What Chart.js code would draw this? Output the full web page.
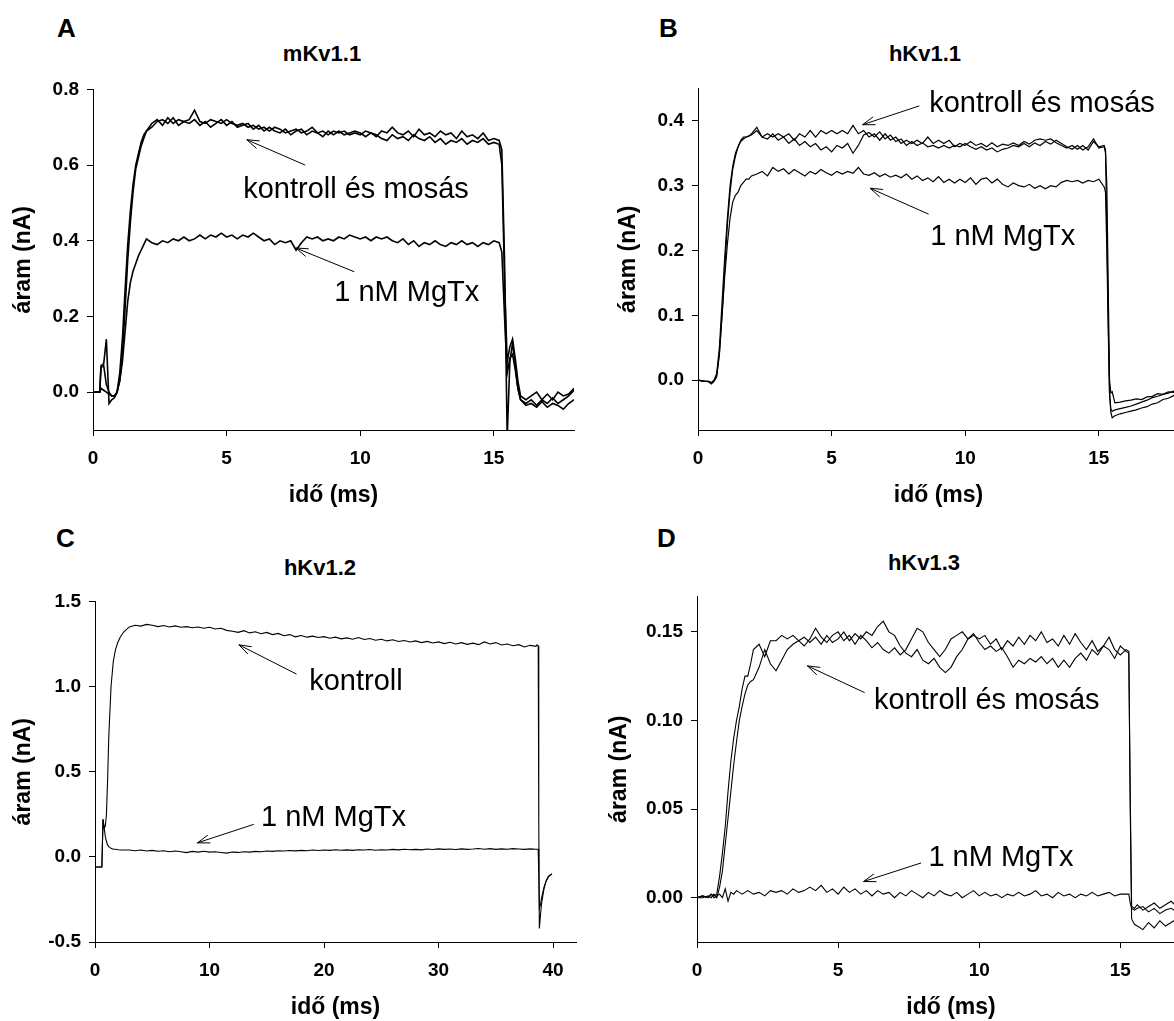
<!DOCTYPE html>
<html lang="hu">
<head>
<meta charset="utf-8">
<title>MgTx – Kv1.x áramok</title>
<script src="https://cdn.jsdelivr.net/npm/chart.js@4.4.1/dist/chart.umd.min.js"></script>
<style>
  html, body { margin: 0; padding: 0; background: #fff; width: 1174px; height: 1021px; overflow: hidden; }
  body { position: relative; font-family: "Liberation Sans", Arial, sans-serif; color: #000; }
  .panel { position: absolute; }
  .betu { position: absolute; font-weight: bold; font-size: 26px; line-height: 1; }
  .cim { position: absolute; width: 200px; text-align: center; font-weight: bold; font-size: 22px; line-height: 1; }
</style>
</head>
<body>
<div class="betu" style="left:57px;top:15px">A</div>
<div class="betu" style="left:659px;top:15px">B</div>
<div class="betu" style="left:56px;top:525px">C</div>
<div class="betu" style="left:657px;top:525px">D</div>
<div class="cim" style="left:222px;top:43px">mKv1.1</div>
<div class="cim" style="left:825px;top:43px">hKv1.1</div>
<div class="cim" style="left:220px;top:557px">hKv1.2</div>
<div class="cim" style="left:824px;top:552px">hKv1.3</div>

<div class="panel" style="left:10px;top:70px"><canvas id="grafA" width="576" height="439"></canvas></div>
<div class="panel" style="left:615px;top:69px"><canvas id="grafB" width="575" height="440"></canvas></div>
<div class="panel" style="left:10px;top:582px"><canvas id="grafC" width="578" height="439"></canvas></div>
<div class="panel" style="left:606px;top:577px"><canvas id="grafD" width="610" height="444"></canvas></div>

<script>
// Közös időpontok (ms) a 18 ms-os rögzítésekhez
var emelkedIdo = [1.0, 1.1, 1.2, 1.3, 1.4, 1.5, 1.6, 1.7, 1.8, 1.9, 2.0];
var platoIdo = [2.2, 2.4, 2.6, 2.8, 3.0, 3.2, 3.4, 3.6, 3.8, 4.0,
  4.2, 4.4, 4.6, 4.8, 5.0, 5.2, 5.4, 5.6, 5.8, 6.0,
  6.2, 6.4, 6.6, 6.8, 7.0, 7.2, 7.4, 7.6, 7.8, 8.0,
  8.2, 8.4, 8.6, 8.8, 9.0, 9.2, 9.4, 9.6, 9.8, 10.0,
  10.2, 10.4, 10.6, 10.8, 11.0, 11.2, 11.4, 11.6, 11.8, 12.0,
  12.2, 12.4, 12.6, 12.8, 13.0, 13.2, 13.4, 13.6, 13.8, 14.0,
  14.2, 14.4, 14.6, 14.8, 15.0, 15.2];
var vegIdo = [16.2, 16.4, 16.6, 16.8, 17.0, 17.2, 17.4, 17.6, 17.8, 18.0];

// ---- A: mKv1.1 ----
var idoA = [0, 0.25, 0.3, 0.4, 0.5, 0.6, 0.7, 0.8, 0.9].concat(emelkedIdo, platoIdo,
  [15.3, 15.4, 15.5, 15.6, 15.7, 15.8, 15.9, 16.0], vegIdo);
var kontrollA = [0, 0, 0.07, 0.075, 0.14, -0.03, -0.02, -0.015, 0.0,
  0.05, 0.14, 0.27, 0.39, 0.48, 0.55, 0.60, 0.63, 0.66, 0.68, 0.69,
  0.71, 0.72, 0.705, 0.725, 0.71, 0.72, 0.715, 0.72, 0.745, 0.715,
  0.71, 0.72, 0.715, 0.71, 0.72, 0.71, 0.705, 0.71, 0.70, 0.705,
  0.695, 0.70, 0.69, 0.70, 0.695, 0.685, 0.69, 0.695, 0.685, 0.69,
  0.70, 0.685, 0.69, 0.68, 0.69, 0.685, 0.69, 0.68, 0.685, 0.68,
  0.69, 0.685, 0.675, 0.69, 0.685, 0.70, 0.685, 0.68, 0.69, 0.675,
  0.695, 0.68, 0.685, 0.675, 0.69, 0.68, 0.685, 0.67, 0.69, 0.675,
  0.68, 0.67, 0.685, 0.665, 0.67, 0.665,
  0.64, 0.35, -0.12, 0.08, 0.13, 0.07, 0.01, -0.02,
  -0.03, -0.02, -0.035, -0.02, -0.03, -0.015, -0.03, -0.02, -0.01, 0.005];
var mosasA = [0, 0, 0.065, 0.07, 0.02, 0.0, -0.01, -0.01, 0.0,
  0.03, 0.10, 0.22, 0.35, 0.45, 0.53, 0.59, 0.62, 0.65, 0.67, 0.69,
  0.70, 0.715, 0.72, 0.71, 0.725, 0.705, 0.715, 0.71, 0.72, 0.705,
  0.715, 0.70, 0.71, 0.72, 0.705, 0.715, 0.70, 0.705, 0.71, 0.695,
  0.705, 0.69, 0.70, 0.69, 0.685, 0.695, 0.68, 0.69, 0.695, 0.68,
  0.69, 0.685, 0.675, 0.69, 0.68, 0.69, 0.68, 0.685, 0.69, 0.685,
  0.675, 0.685, 0.68, 0.67, 0.665, 0.68, 0.67, 0.675, 0.665, 0.68,
  0.67, 0.665, 0.675, 0.66, 0.67, 0.655, 0.665, 0.66, 0.67, 0.655,
  0.665, 0.66, 0.67, 0.655, 0.66, 0.655,
  0.60, 0.30, 0.08, 0.12, 0.14, 0.09, 0.03, -0.01,
  -0.02, -0.01, 0.0, -0.02, -0.005, -0.02, 0.0, -0.01, -0.005, 0.01];
var mgtxA = [0, 0, 0.01, 0.005, 0.0, -0.005, -0.01, -0.01, 0.0,
  0.03, 0.08, 0.16, 0.24, 0.29, 0.32, 0.34, 0.36, 0.375, 0.39, 0.405,
  0.395, 0.39, 0.40, 0.395, 0.405, 0.40, 0.41, 0.40, 0.405, 0.415,
  0.405, 0.415, 0.41, 0.42, 0.41, 0.415, 0.405, 0.415, 0.41, 0.42,
  0.41, 0.40, 0.405, 0.39, 0.40, 0.395, 0.40, 0.375, 0.395, 0.41,
  0.405, 0.41, 0.40, 0.405, 0.40, 0.41, 0.405, 0.415, 0.41, 0.405,
  0.41, 0.40, 0.41, 0.405, 0.41, 0.40, 0.395, 0.405, 0.39, 0.40,
  0.385, 0.395, 0.39, 0.40, 0.39, 0.385, 0.395, 0.39, 0.40, 0.39,
  0.395, 0.385, 0.395, 0.39, 0.40, 0.395,
  0.37, 0.20, 0.05, 0.09, 0.10, 0.06, 0.01, -0.02,
  -0.035, -0.03, -0.04, -0.025, -0.04, -0.03, -0.035, -0.045, -0.03, -0.02];

// ---- B: hKv1.1 ----
var idoB = [0, 0.2, 0.4, 0.5, 0.6, 0.7, 0.8, 0.9].concat(emelkedIdo, platoIdo,
  [15.25, 15.3, 15.35, 15.4, 15.45, 15.5, 15.6, 15.8, 16.0], vegIdo);
var kontrollB = [0, -0.002, -0.002, -0.004, 0.0, 0.01, 0.05, 0.12,
  0.19, 0.25, 0.30, 0.33, 0.35, 0.36, 0.37, 0.375, 0.375, 0.377, 0.378,
  0.385, 0.375, 0.38, 0.375, 0.38, 0.375, 0.38, 0.37, 0.38, 0.375,
  0.385, 0.375, 0.385, 0.38, 0.385, 0.38, 0.385, 0.38, 0.393, 0.38,
  0.385, 0.375, 0.38, 0.37, 0.38, 0.37, 0.375, 0.365, 0.37, 0.365,
  0.37, 0.365, 0.375, 0.365, 0.37, 0.365, 0.37, 0.36, 0.365, 0.362,
  0.368, 0.362, 0.365, 0.36, 0.366, 0.36, 0.364, 0.362, 0.366, 0.362,
  0.368, 0.364, 0.37, 0.372, 0.37, 0.372, 0.366, 0.362, 0.358, 0.362,
  0.356, 0.362, 0.355, 0.368, 0.36, 0.362,
  0.355, 0.30, 0.15, 0.0, -0.02, -0.018, -0.035, -0.034, -0.032,
  -0.031, -0.029, -0.03, -0.026, -0.025, -0.021, -0.022, -0.018, -0.019, -0.014];
var mosasB = [0, -0.001, -0.003, -0.006, -0.002, 0.005, 0.04, 0.10,
  0.17, 0.24, 0.29, 0.325, 0.345, 0.36, 0.368, 0.372, 0.375, 0.376, 0.38,
  0.39, 0.375, 0.372, 0.38, 0.37, 0.375, 0.365, 0.372, 0.362, 0.368,
  0.36, 0.365, 0.355, 0.36, 0.352, 0.362, 0.358, 0.365, 0.35, 0.362,
  0.378, 0.382, 0.375, 0.383, 0.372, 0.378, 0.368, 0.372, 0.362, 0.368,
  0.362, 0.366, 0.36, 0.362, 0.358, 0.362, 0.358, 0.362, 0.36, 0.365,
  0.36, 0.356, 0.36, 0.355, 0.358, 0.352, 0.356, 0.358, 0.362, 0.36,
  0.365, 0.36, 0.366, 0.362, 0.368, 0.364, 0.37, 0.365, 0.36, 0.356,
  0.362, 0.355, 0.36, 0.372, 0.358, 0.36,
  0.35, 0.23, 0.10, -0.02, -0.05, -0.058, -0.055, -0.052, -0.05,
  -0.048, -0.046, -0.043, -0.041, -0.037, -0.035, -0.03, -0.028, -0.024, -0.02];
var mgtxB = [0, -0.002, -0.002, -0.004, -0.001, 0.008, 0.04, 0.10,
  0.16, 0.21, 0.25, 0.275, 0.285, 0.29, 0.30, 0.305, 0.31, 0.31, 0.315,
  0.318, 0.322, 0.315, 0.328, 0.322, 0.326, 0.318, 0.325, 0.32, 0.315,
  0.322, 0.318, 0.325, 0.32, 0.316, 0.322, 0.318, 0.322, 0.319, 0.328,
  0.318, 0.316, 0.32, 0.314, 0.318, 0.313, 0.316, 0.312, 0.318, 0.31,
  0.315, 0.308, 0.312, 0.306, 0.314, 0.305, 0.31, 0.304, 0.31, 0.305,
  0.312, 0.302, 0.31, 0.312, 0.304, 0.31, 0.302, 0.298, 0.304, 0.3,
  0.298, 0.302, 0.296, 0.3, 0.295, 0.3, 0.298, 0.305, 0.308, 0.306,
  0.308, 0.304, 0.308, 0.306, 0.31, 0.298,
  0.29, 0.20, 0.08, -0.02, -0.045, -0.048, -0.046, -0.044, -0.042,
  -0.04, -0.037, -0.034, -0.031, -0.027, -0.025, -0.022, -0.02, -0.017, -0.015];

// ---- C: hKv1.2 (40 ms) ----
var idoC = [0, 0.3, 0.6, 0.65, 0.7, 0.8, 0.9, 1.0, 1.1, 1.2, 1.4, 1.6, 1.8, 2.0, 2.2, 2.5,
  3.0, 3.5, 4.0, 4.5, 5.0, 5.5, 6.0, 6.5, 7.0, 7.5,
  8.0, 8.5, 9.0, 9.5, 10.0, 10.5, 11.0, 11.5, 12.0, 12.5,
  13.0, 13.5, 14.0, 14.5, 15.0, 15.5, 16.0, 16.5, 17.0, 17.5,
  18.0, 18.5, 19.0, 19.5, 20.0, 20.5, 21.0, 21.5, 22.0, 22.5,
  23.0, 23.5, 24.0, 24.5, 25.0, 25.5, 26.0, 26.5, 27.0, 27.5,
  28.0, 28.5, 29.0, 29.5, 30.0, 30.5, 31.0, 31.5, 32.0, 32.5,
  33.0, 33.5, 34.0, 34.5, 35.0, 35.5, 36.0, 36.5, 37.0, 37.5,
  38.0, 38.5,
  38.6, 38.7, 38.75, 38.8, 38.9, 39.0, 39.2, 39.4, 39.6, 39.9];
var kontrollC = [-0.06, -0.06, -0.06, 0.08, 0.22, 0.17, 0.18, 0.25, 0.45, 0.70, 1.0, 1.15, 1.22, 1.26, 1.29, 1.32,
  1.35, 1.36, 1.355, 1.365, 1.36, 1.352, 1.358, 1.35, 1.356, 1.348,
  1.352, 1.345, 1.35, 1.342, 1.348, 1.338, 1.342, 1.33, 1.325, 1.318,
  1.328, 1.315, 1.322, 1.31, 1.318, 1.305, 1.312, 1.298, 1.305, 1.292,
  1.3, 1.29, 1.296, 1.288, 1.293, 1.284, 1.29, 1.28, 1.286, 1.278,
  1.288, 1.276, 1.282, 1.272, 1.278, 1.268, 1.275, 1.265, 1.27, 1.262,
  1.268, 1.258, 1.265, 1.256, 1.262, 1.252, 1.26, 1.25, 1.258, 1.248,
  1.255, 1.246, 1.262, 1.25, 1.258, 1.244, 1.25, 1.24, 1.246, 1.232,
  1.242, 1.236,
  1.245, 1.24, 0.2, -0.42, -0.34, -0.27, -0.19, -0.14, -0.115, -0.1];
var mgtxC = [-0.06, -0.06, -0.06, 0.08, 0.22, 0.17, 0.12, 0.09, 0.07, 0.06, 0.05, 0.045, 0.045, 0.042, 0.04, 0.04,
  0.04, 0.036, 0.04, 0.034, 0.038, 0.033, 0.036, 0.03, 0.034, 0.03,
  0.025, 0.032, 0.028, 0.033, 0.028, 0.03, 0.026, 0.022, 0.028, 0.026,
  0.03, 0.028, 0.032, 0.03, 0.034, 0.032, 0.036, 0.034, 0.037, 0.035,
  0.038, 0.036, 0.04, 0.037, 0.04, 0.038, 0.042, 0.039, 0.041, 0.038,
  0.042, 0.04, 0.043, 0.039, 0.042, 0.04, 0.044, 0.041, 0.045, 0.042,
  0.044, 0.041, 0.046, 0.043, 0.047, 0.044, 0.046, 0.043, 0.047, 0.044,
  0.046, 0.049, 0.045, 0.048, 0.044, 0.047, 0.045, 0.048, 0.046, 0.044,
  0.047, 0.045,
  0.045, 0.045, -0.1, -0.3, -0.28, -0.24, -0.18, -0.14, -0.115, -0.1];

// ---- D: hKv1.3 ----
var idoD = [0, 0.2, 0.4, 0.5, 0.6, 0.7, 0.8, 0.9].concat(emelkedIdo, platoIdo,
  [15.3, 15.35, 15.4, 15.5],
  [15.6, 15.8, 16.0, 16.2, 16.4, 16.6, 16.8, 17.0, 17.2, 17.4, 17.6, 17.8, 18.0]);
var kontrollD = [0, 0.001, 0.0, 0.002, 0.001, 0.002, 0.012, 0.025,
  0.04, 0.06, 0.077, 0.09, 0.10, 0.108, 0.118, 0.125, 0.125, 0.132, 0.14,
  0.143, 0.136, 0.145, 0.145, 0.148, 0.146, 0.148, 0.145, 0.142, 0.146,
  0.152, 0.147, 0.144, 0.148, 0.15, 0.145, 0.148, 0.143, 0.148, 0.145,
  0.141, 0.144, 0.14, 0.138, 0.141, 0.137, 0.14, 0.146, 0.152, 0.15,
  0.144, 0.14, 0.136, 0.14, 0.146, 0.148, 0.15, 0.146, 0.149, 0.144,
  0.14, 0.142, 0.139, 0.141, 0.136, 0.13, 0.134, 0.132, 0.135, 0.133,
  0.136, 0.132, 0.135, 0.13, 0.134, 0.13, 0.135, 0.138, 0.134, 0.14,
  0.137, 0.142, 0.14, 0.135, 0.142, 0.139,
  0.138, 0.06, -0.005, -0.006,
  -0.004, -0.007, -0.005, -0.003, -0.006, -0.004, -0.002, -0.005, -0.003, -0.004, -0.002, -0.004, -0.003];
var mosasD = [0, 0.0, 0.001, 0.0, 0.002, 0.0, 0.006, 0.015,
  0.03, 0.045, 0.06, 0.075, 0.088, 0.10, 0.108, 0.115, 0.12, 0.122, 0.123,
  0.13, 0.14, 0.132, 0.128, 0.134, 0.14, 0.143, 0.145, 0.147, 0.144,
  0.147, 0.143, 0.148, 0.144, 0.146, 0.15, 0.145, 0.149, 0.146, 0.15,
  0.148, 0.153, 0.156, 0.15, 0.148, 0.142, 0.138, 0.136, 0.14, 0.134,
  0.132, 0.135, 0.13, 0.127, 0.13, 0.136, 0.14, 0.146, 0.148, 0.146,
  0.148, 0.143, 0.146, 0.14, 0.145, 0.142, 0.147, 0.143, 0.148, 0.145,
  0.15, 0.144, 0.146, 0.142, 0.148, 0.143, 0.149, 0.144, 0.14, 0.145,
  0.139, 0.142, 0.147, 0.14, 0.137, 0.14,
  0.139, 0.05, -0.012, -0.015,
  -0.016, -0.018, -0.014, -0.017, -0.013, -0.016, -0.014, -0.012, -0.015, -0.013, -0.014, -0.012, -0.013];
var mgtxD = [0, 0.001, 0.0, 0.002, 0.0, 0.001, 0.002, 0.0,
  0.005, -0.002, 0.003, 0.002, 0.004, 0.003, 0.002, 0.003, 0.004, 0.003, 0.002,
  0.003, 0.001, 0.004, 0.003, 0.004, 0.002, 0.005, 0.003, 0.004, 0.006,
  0.004, 0.007, 0.003, 0.005, 0.002, 0.006, 0.003, 0.005, 0.002, 0.004,
  0.001, 0.004, 0.002, 0.003, 0.0, 0.003, 0.001, 0.004, 0.002, 0.0,
  0.003, 0.001, 0.004, 0.002, 0.001, 0.003, 0.0, 0.002, 0.004, 0.001,
  0.003, 0.001, 0.002, 0.0, 0.002, 0.001, 0.003, 0.001, 0.002, 0.004,
  0.001, 0.002, 0.0, 0.003, 0.001, 0.002, 0.0, 0.002, 0.001, 0.003,
  0.001, 0.002, 0.003, 0.001, 0.002, 0.002,
  0.002, -0.003, -0.006, -0.007,
  -0.006, -0.005, -0.008, -0.006, -0.009, -0.007, -0.006, -0.008, -0.006, -0.007, -0.005, -0.007, -0.006];

// Tengelyek beosztása
var xTickA = [0, 5, 10, 15], yTickA = [0.0, 0.2, 0.4, 0.6, 0.8];
var xTickB = [0, 5, 10, 15], yTickB = [0.0, 0.1, 0.2, 0.3, 0.4];
var xTickC = [0, 10, 20, 30, 40], yTickC = [-0.5, 0.0, 0.5, 1.0, 1.5];
var xTickD = [0, 5, 10, 15], yTickD = [0.00, 0.05, 0.10, 0.15];

// Feliratok és nyilak (adatkoordinátákban): [szöveg, x, y] és [x0, y0, hegy x, hegy y]
var feliratA = [['kontroll és mosás', 5.62, 0.514], ['1 nM MgTx', 9.03, 0.241]];
var nyilA = [[7.94, 0.600, 5.755, 0.667], [9.78, 0.318, 7.59, 0.381]];
var feliratB = [['kontroll és mosás', 8.65, 0.413], ['1 nM MgTx', 8.69, 0.208]];
var nyilB = [[8.28, 0.423, 6.16, 0.394], [8.63, 0.256, 6.44, 0.296]];
var feliratC = [['kontroll', 18.7, 0.977], ['1 nM MgTx', 14.5, 0.182]];
var nyilC = [[17.6, 1.073, 12.56, 1.245], [13.87, 0.191, 8.94, 0.082]];
var feliratD = [['kontroll és mosás', 6.27, 0.1066], ['1 nM MgTx', 8.2, 0.0177]];
var nyilD = [[5.94, 0.1157, 3.91, 0.1308], [7.94, 0.0196, 5.9, 0.0091]];

Chart.defaults.font.family = '"Liberation Sans", Arial, sans-serif';
Chart.defaults.color = '#000';

function pontok(ido, ertek) {
  var p = [];
  for (var i = 0; i < ido.length && i < ertek.length; i++) p.push({ x: ido[i], y: ertek[i] });
  return p;
}

// Nyilak és szövegek a görbék fölé
var jegyzetek = {
  id: 'jegyzetek',
  afterDatasetsDraw: function (chart, args, opts) {
    var ctx = chart.ctx, sx = chart.scales.x, sy = chart.scales.y;
    ctx.save();
    ctx.fillStyle = '#000';
    ctx.strokeStyle = '#000';
    ctx.lineWidth = 1;
    ctx.font = '29px "Liberation Sans", Arial, sans-serif';
    ctx.textBaseline = 'alphabetic';
    ctx.textAlign = 'left';
    (opts.feliratok || []).forEach(function (f) {
      ctx.fillText(f[0], sx.getPixelForValue(f[1]), sy.getPixelForValue(f[2]));
    });
    (opts.nyilak || []).forEach(function (n) {
      var x0 = sx.getPixelForValue(n[0]), y0 = sy.getPixelForValue(n[1]);
      var x1 = sx.getPixelForValue(n[2]), y1 = sy.getPixelForValue(n[3]);
      var a = Math.atan2(y1 - y0, x1 - x0), h = 13, w = 0.32;
      ctx.beginPath();
      ctx.moveTo(x0, y0); ctx.lineTo(x1, y1);
      ctx.moveTo(x1 - h * Math.cos(a - w), y1 - h * Math.sin(a - w));
      ctx.lineTo(x1, y1);
      ctx.lineTo(x1 - h * Math.cos(a + w), y1 - h * Math.sin(a + w));
      ctx.stroke();
    });
    ctx.restore();
  }
};

function grafikon(id, p) {
  var sorozatok = p.gorbek.map(function (g) {
    return { data: pontok(p.ido, g), borderColor: '#000', borderWidth: p.vastag, pointRadius: 0, tension: 0, fill: false };
  });
  new Chart(document.getElementById(id), {
    type: 'line',
    data: { datasets: sorozatok },
    plugins: [jegyzetek],
    options: {
      responsive: false,
      animation: false,
      layout: { autoPadding: false, padding: { top: 12, right: p.jobb, left: 0, bottom: 0 } },
      plugins: {
        legend: { display: false },
        tooltip: { enabled: false },
        jegyzetek: { feliratok: p.feliratok, nyilak: p.nyilak }
      },
      scales: {
        x: {
          type: 'linear', min: p.xMin, max: p.xMax,
          afterBuildTicks: function (s) { s.ticks = p.xTick.map(function (v) { return { value: v }; }); },
          afterFit: function (s) { s.height = 79; },
          ticks: { autoSkip: false, maxRotation: 0, padding: 11, font: { size: 19, weight: 'bold' },
            callback: function (v) { return String(v); } },
          grid: { drawOnChartArea: false, drawTicks: true, tickLength: 6, color: '#000', lineWidth: 1 },
          border: { display: true, color: '#000', width: 1 },
          title: { display: true, text: 'idő (ms)', padding: 0, font: { size: 23, weight: 'bold' } }
        },
        y: {
          min: p.yMin, max: p.yMax,
          afterBuildTicks: function (s) { s.ticks = p.yTick.map(function (v) { return { value: v }; }); },
          afterFit: function (s) { s.width = p.bal; },
          ticks: { autoSkip: false, padding: 8, font: { size: 19, weight: 'bold' },
            callback: function (v) { return Number(v).toFixed(p.tizedes); } },
          grid: { drawOnChartArea: false, drawTicks: true, tickLength: 6, color: '#000', lineWidth: 1 },
          border: { display: true, color: '#000', width: 1 },
          title: { display: true, text: 'áram (nA)', padding: 0, font: { size: 23, weight: 'bold' } }
        }
      }
    }
  });
}

grafikon('grafA', { ido: idoA, gorbek: [kontrollA, mosasA, mgtxA], vastag: 1.6,
  xMin: 0, xMax: 18, yMin: -0.1, yMax: 0.8, xTick: xTickA, yTick: yTickA, tizedes: 1,
  bal: 83, jobb: 12, feliratok: feliratA, nyilak: nyilA });
grafikon('grafB', { ido: idoB, gorbek: [kontrollB, mosasB, mgtxB], vastag: 1.2,
  xMin: 0, xMax: 18, yMin: -0.077, yMax: 0.45, xTick: xTickB, yTick: yTickB, tizedes: 1,
  bal: 83, jobb: 11, feliratok: feliratB, nyilak: nyilB });
grafikon('grafC', { ido: idoC, gorbek: [kontrollC, mgtxC], vastag: 1.1,
  xMin: 0, xMax: 42, yMin: -0.5, yMax: 1.5, xTick: xTickC, yTick: yTickC, tizedes: 1,
  bal: 85, jobb: 12, feliratok: feliratC, nyilak: nyilC });
grafikon('grafD', { ido: idoD, gorbek: [kontrollD, mosasD, mgtxD], vastag: 1.1,
  xMin: 0, xMax: 18, yMin: -0.025, yMax: 0.17, xTick: xTickD, yTick: yTickD, tizedes: 2,
  bal: 91, jobb: 11, feliratok: feliratD, nyilak: nyilD });
</script>
</body>
</html>
